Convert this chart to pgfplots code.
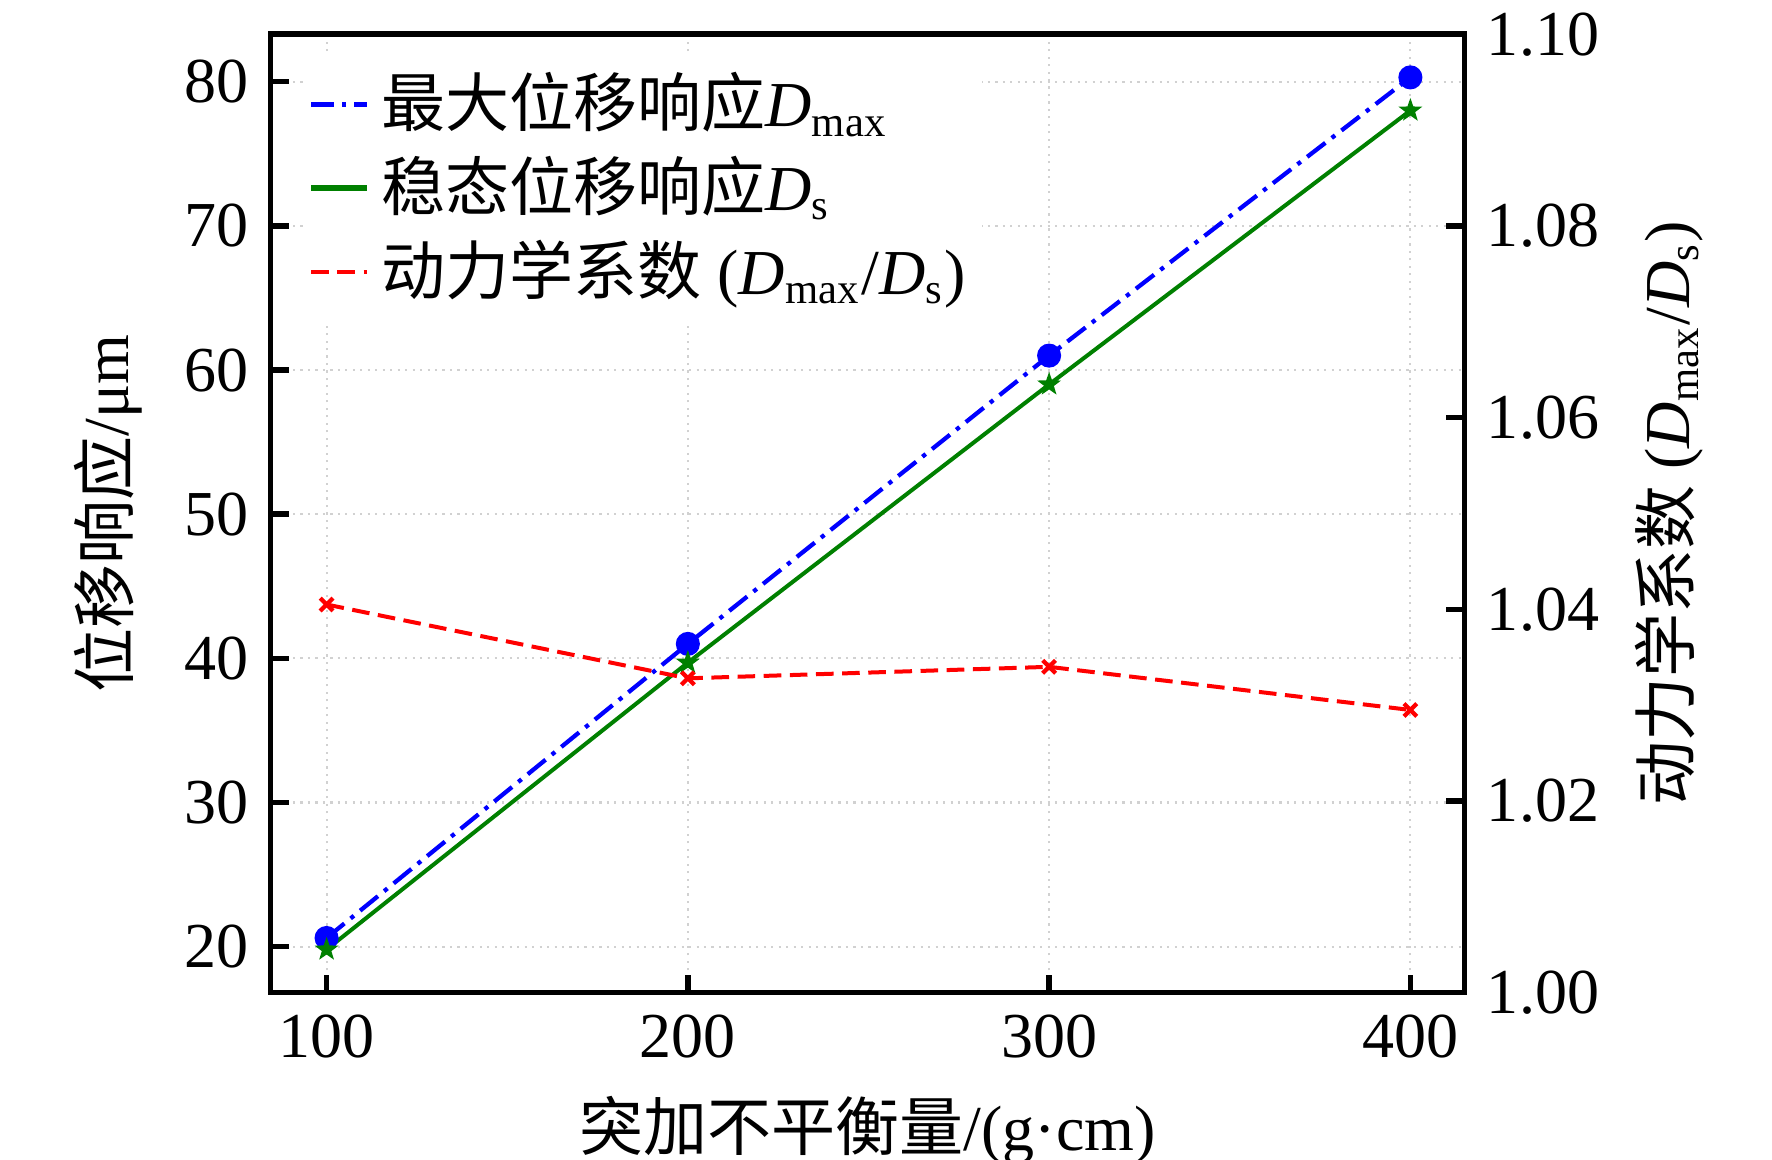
\documentclass[border=0pt]{standalone}
\usepackage{fontspec}
\setmainfont{Liberation Serif}
\newfontfamily\cjk{Noto Sans CJK SC}
\usepackage{pgfplots}
\pgfplotsset{compat=1.18}
\definecolor{mblue}{RGB}{0,0,255}
\definecolor{mgreen}{RGB}{0,128,0}
\definecolor{mred}{RGB}{255,0,0}
\pgfdeclareplotmark{fstar}{%
  \pgfpathmoveto{\pgfpointpolar{90}{\pgfplotmarksize}}%
  \pgfpathlineto{\pgfpointpolar{126}{0.4\pgfplotmarksize}}%
  \pgfpathlineto{\pgfpointpolar{162}{\pgfplotmarksize}}%
  \pgfpathlineto{\pgfpointpolar{198}{0.4\pgfplotmarksize}}%
  \pgfpathlineto{\pgfpointpolar{234}{\pgfplotmarksize}}%
  \pgfpathlineto{\pgfpointpolar{270}{0.4\pgfplotmarksize}}%
  \pgfpathlineto{\pgfpointpolar{306}{\pgfplotmarksize}}%
  \pgfpathlineto{\pgfpointpolar{342}{0.4\pgfplotmarksize}}%
  \pgfpathlineto{\pgfpointpolar{18}{\pgfplotmarksize}}%
  \pgfpathlineto{\pgfpointpolar{54}{0.4\pgfplotmarksize}}%
  \pgfpathclose
  \pgfusepathqfillstroke
}
\begin{document}
\fontsize{12}{14}\selectfont
\begin{tikzpicture}
\pgfplotsset{
  every axis/.append style={
    scale only axis, width=223.7pt, height=179.6pt,
    xmin=84.5, xmax=415,
    font=\fontsize{12}{14}\selectfont,
    /pgf/number format/assume math mode=true,
    axis line style={line width=1pt},
    major tick length=3.4pt,
    every tick/.style={black, line width=1pt},
    tick align=inside,
  },
}
\begin{axis}[
  ymin=16.8, ymax=83.3,
  xtick={100,200,300,400},
  ytick={20,30,40,50,60,70,80},
  xtick pos=bottom, ytick pos=left,
  grid=major,
  grid style={densely dotted, black!18, line width=0.4pt},
  xlabel={{\cjk 突加不平衡量}/(g·cm)},
  ylabel={{\cjk 位移响应}/μm},
  xlabel style={at={(axis description cs:0.5,-0.143)}, anchor=center},
  ylabel style={at={(axis description cs:-0.136,0.5)}, anchor=center},
]
\coordinate (SW) at (rel axis cs:0,0);
\coordinate (NE) at (rel axis cs:1,1);
\addplot[mblue, line width=0.8pt, dash pattern=on 4.3pt off 1.5pt on 0.8pt off 1.5pt,
  mark=*, mark size=1.85pt, mark options={solid}]
  coordinates {(100,20.6) (200,41.0) (300,61.0) (400,80.3)};
\addplot[mgreen, line width=0.75pt, mark=fstar, mark size=1.9pt, mark options={solid, line width=0.3pt, fill=mgreen}]
  coordinates {(100,19.8) (200,39.7) (300,59.0) (400,78.0)};
\end{axis}
\begin{axis}[
  ymin=1.00, ymax=1.10,
  ytick={1.00,1.02,1.04,1.06,1.08,1.10},
  yticklabel style={/pgf/number format/.cd, fixed, fixed zerofill, precision=2},
  hide x axis,
  axis y line*=right,
  ytick pos=right,
  ylabel={{\cjk 动力学系数} (\textit{D}\textsubscript{max}/\textit{D}\textsubscript{s})},
  ylabel style={at={(axis description cs:1.171,0.5)}, anchor=center, rotate=0},
  legend style={at={(axis description cs:0.026,0.978)}, anchor=north west, draw=none, fill=white,
    font=\fontsize{12}{14}\selectfont, inner sep=1pt, row sep=-0.3pt,
    nodes={inner xsep=2pt}},
  legend cell align=left,
  legend image code/.code={\draw[#1] (0cm,0cm) -- (0.37cm,0cm);},
]
\addlegendimage{mblue, line width=1pt, dash pattern=on 4.3pt off 1.5pt on 0.8pt off 1.5pt}
\addlegendentry{{\cjk 最大位移响应}\textit{D}\textsubscript{max}}
\addlegendimage{mgreen, line width=1.2pt}
\addlegendentry{{\cjk 稳态位移响应}\textit{D}\textsubscript{s}}
\addplot[mred, line width=0.75pt, dash pattern=on 3.3pt off 1.6pt,
  mark=x, mark size=1.7pt, mark options={solid, line width=0.8pt}]
  coordinates {(100,1.0405) (200,1.0328) (300,1.0340) (400,1.0295)};
\addlegendentry{{\cjk 动力学系数} (\textit{D}\textsubscript{max}/\textit{D}\textsubscript{s})}
\end{axis}
\pgfresetboundingbox
\path ([shift={(-50.7pt,-31.2pt)}]SW) rectangle ([shift={(57.6pt,6.4pt)}]NE);
\end{tikzpicture}
\end{document}
